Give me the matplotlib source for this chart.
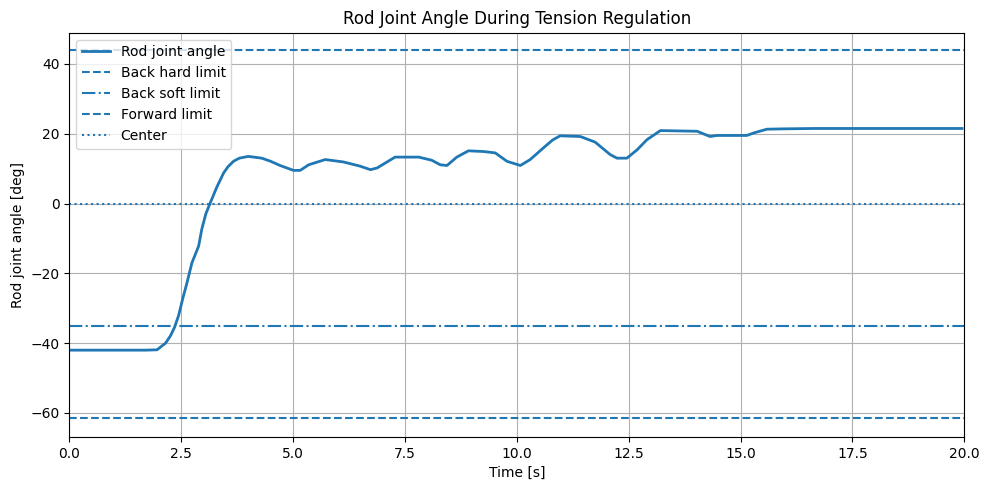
import numpy as np
import matplotlib.pyplot as plt

# values
time_s = [0.0, 0.5, 1.0, 1.4, 1.7, 1.96, 2.03, 2.15, 2.26, 2.35, 2.44, 2.54, 2.63, 2.74, 2.89,
          2.96, 3.05, 3.15, 3.3, 3.45, 3.55, 3.67, 3.8, 4.0, 4.3, 4.5, 4.71, 5.01, 5.16,
          5.35, 5.72, 6.13, 6.5, 6.73, 6.88, 7.28, 7.81, 8.1, 8.29, 8.44, 8.66, 8.92,
          9.26, 9.52, 9.78, 10.08, 10.3, 10.6, 10.8, 10.97, 11.42, 11.75, 12.09, 12.24,
          12.46, 12.69, 12.91, 13.21, 14.03, 14.32, 14.47, 15.14, 15.29, 15.59, 16.0,
          16.63, 17.5, 18.5, 19.2, 19.95]
angle_deg = [-42.0, -42.0, -42.0, -42.0, -42.0, -41.9, -41.2, -40.0, -37.9, -35.5, -32.2, -27.0,
             -22.7, -17.0, -12.2, -7.4, -3.0, 0.2, 4.8, 8.8, 10.6, 12.1, 13.0, 13.5, 13.0,
             12.1, 10.9, 9.5, 9.5, 11.1, 12.6, 11.9, 10.7, 9.7, 10.2, 13.3, 13.3, 12.4,
             11.1, 10.9, 13.3, 15.1, 14.9, 14.5, 12.1, 10.9, 12.6, 16.0, 18.2, 19.4, 19.2,
             17.6, 14.0, 13.0, 13.0, 15.4, 18.3, 20.9, 20.7, 19.2, 19.5, 19.5, 20.2, 21.3,
             21.4, 21.5, 21.5, 21.5, 21.5, 21.5]

back_hard = -61.3
back_soft = -35.0
forward = 44.0
center = 0.0

fig, ax = plt.subplots(figsize=(9.9, 4.9), dpi=100)
ax.plot(time_s, angle_deg, lw=2, label="Rod joint angle")
ax.axhline(back_hard, ls="--", label="Back hard limit")
ax.axhline(back_soft, ls="-.", label="Back soft limit")
ax.axhline(forward, ls="--", label="Forward limit")
ax.axhline(center, ls=":", label="Center")

ax.set_xlim(0, 20)
ax.set_ylim(-66.9, 48.9)
ax.set_xlabel("Time [s]")
ax.set_ylabel("Rod joint angle [deg]")
ax.set_title("Rod Joint Angle During Tension Regulation")
ax.grid(True)
ax.legend(loc="upper left")
fig.subplots_adjust(left=0.070, right=0.974, top=0.933, bottom=0.108)
fig.savefig("out.png")
